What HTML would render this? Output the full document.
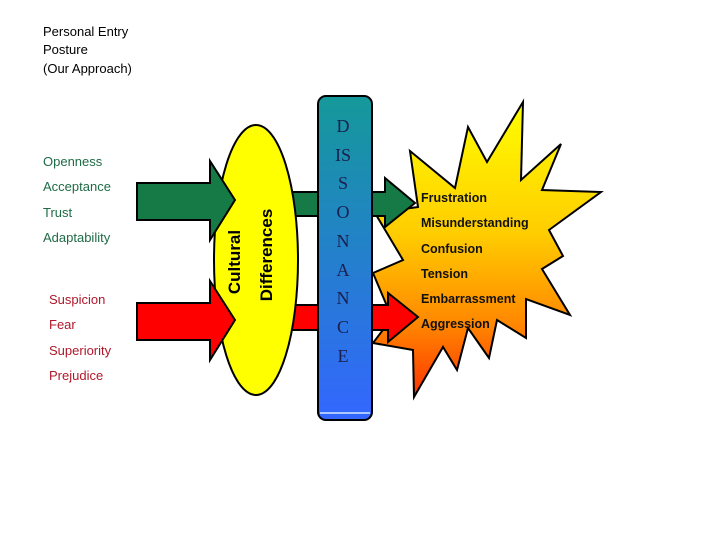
<!DOCTYPE html>
<html><head><meta charset="utf-8"><style>
html,body{margin:0;padding:0;background:#fff;}
svg{display:block;}
</style></head><body>
<svg width="720" height="540" viewBox="0 0 720 540" xmlns="http://www.w3.org/2000/svg">
<defs>
<linearGradient id="sg" x1="0" y1="0" x2="0" y2="1">
<stop offset="0" stop-color="#ffff00"/><stop offset="0.45" stop-color="#ffcc00"/><stop offset="0.75" stop-color="#ff8800"/><stop offset="1" stop-color="#ff3300"/>
</linearGradient>
<linearGradient id="bg" x1="0" y1="0" x2="0" y2="1">
<stop offset="0" stop-color="#15999a"/><stop offset="1" stop-color="#3366ff"/>
</linearGradient>
</defs>
<g font-family="Liberation Sans, sans-serif" font-size="13">
<text x="43" y="36" fill="#000">Personal Entry</text>
<text x="43" y="54" fill="#000">Posture</text>
<text x="43" y="73" fill="#000">(Our Approach)</text>
<g fill="#1e6b45">
<text x="43" y="166">Openness</text>
<text x="43" y="191">Acceptance</text>
<text x="43" y="217">Trust</text>
<text x="43" y="242">Adaptability</text>
</g>
<g fill="#b0182a">
<text x="49" y="304">Suspicion</text>
<text x="49" y="329">Fear</text>
<text x="49" y="355">Superiority</text>
<text x="49" y="380">Prejudice</text>
</g>
</g>
<!-- star -->
<polygon points="523,102 521,180 561,144 542,190 601,192 549,230 563,256 542,269 570,315 526,299 526,338 497,320 489,358 468,328 457,370 443,347 414,397 413,350 373,343 392,318 373,273 403,260 375,213 418,207 410,151 455,188 468,127 487,162" fill="url(#sg)" stroke="#000" stroke-width="2" stroke-linejoin="miter"/>
<!-- right arrow segments -->
<polygon points="290,192 385,192 385,178 415,203 385,227 385,216 290,216" fill="#167a47" stroke="#000" stroke-width="2"/>
<polygon points="290,305 388,305 388,293 418,317 388,342 388,330 290,330" fill="#ff0000" stroke="#000" stroke-width="2"/>
<!-- bar -->
<rect x="318" y="96" width="54" height="324" rx="8" fill="url(#bg)" stroke="#000" stroke-width="2"/>
<line x1="320" y1="413" x2="370" y2="413" stroke="#fff" stroke-width="1.2"/>
<g font-family="Liberation Serif, serif" font-size="18" fill="#1a1f4f" text-anchor="middle">
<text x="343" y="132">D</text>
<text x="343" y="161">IS</text>
<text x="343" y="189">S</text>
<text x="343" y="218">O</text>
<text x="343" y="247">N</text>
<text x="343" y="276">A</text>
<text x="343" y="304">N</text>
<text x="343" y="333">C</text>
<text x="343" y="362">E</text>
</g>
<!-- ellipse -->
<ellipse cx="256" cy="260" rx="42" ry="135" fill="#ffff00" stroke="#000" stroke-width="2"/>
<g font-family="Liberation Sans, sans-serif" font-weight="bold" font-size="17" fill="#000" text-anchor="middle">
<text transform="translate(240,262) rotate(-90)">Cultural</text>
<text transform="translate(272,255) rotate(-90)">Differences</text>
</g>
<!-- left arrows -->
<polygon points="137,183 210,183 210,161 235,200 210,240 210,220 137,220" fill="#167a47" stroke="#000" stroke-width="2"/>
<polygon points="137,303 210,303 210,281 235,320 210,360 210,340 137,340" fill="#ff0000" stroke="#000" stroke-width="2"/>
<g font-family="Liberation Sans, sans-serif" font-weight="bold" font-size="12.5" fill="#111">
<text x="421" y="202">Frustration</text>
<text x="421" y="227">Misunderstanding</text>
<text x="421" y="253">Confusion</text>
<text x="421" y="278">Tension</text>
<text x="421" y="303">Embarrassment</text>
<text x="421" y="328">Aggression</text>
</g>
</svg>
</body></html>
